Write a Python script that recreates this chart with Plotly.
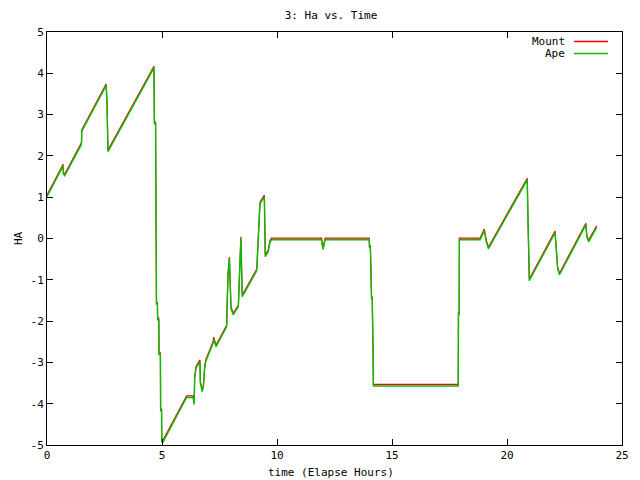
import plotly.graph_objects as go

# Elapsed time (hours)
time_h = [0, 0.67, 0.70, 0.71, 0.77, 1.48, 1.50, 1.51, 2.57, 2.61, 2.63, 2.65, 4.65, 4.67, 4.72, 4.74,
          4.76, 4.80, 4.81, 4.86, 4.87, 4.93, 4.94, 4.98, 4.99, 5.03, 6.07, 6.35, 6.37, 6.40, 6.42, 6.48,
          6.65, 6.67, 6.75, 6.80, 6.85, 6.90, 7.22, 7.25, 7.35, 7.81, 7.83, 7.87, 7.93, 7.96, 8.00, 8.10,
          8.32, 8.35, 8.39, 8.43, 8.46, 8.49, 9.12, 9.16, 9.22, 9.26, 9.45, 9.47, 9.49, 9.62, 9.70, 9.77,
          11.94, 11.96, 12.01, 12.05, 12.09, 14.01, 14.02, 14.06, 14.07, 14.10, 14.11, 14.14, 14.15, 14.18,
          14.19, 17.88, 17.89, 17.92, 17.93, 18.83, 19.01, 19.06, 19.10, 19.19, 20.88, 20.90, 20.94, 20.97,
          22.09, 22.12, 22.16, 22.20, 22.28, 23.43, 23.47, 23.55, 23.90]

mount_ha = [1.05, 1.80, 1.80, 1.60, 1.56, 2.30, 2.34, 2.63, 3.74, 3.30, 2.55, 2.14, 4.17, 2.82, 2.82, 0.03,
            -1.55, -1.55, -1.93, -1.93, -2.77, -2.77, -4.13, -4.13, -4.88, -4.90, -3.81, -3.81, -3.98, -3.98, -3.35, -3.10,
            -2.94, -3.47, -3.67, -3.55, -3.13, -2.94, -2.50, -2.39, -2.58, -2.10, -1.66, -0.84, -0.45, -1.00, -1.66, -1.81,
            -1.61, -1.17, -0.35, 0.04, -0.69, -1.37, -0.74, -0.35, 0.50, 0.88, 1.05, 0.37, -0.40, -0.28, -0.04, 0.01,
            0.01, -0.10, -0.23, -0.10, 0.01, 0.01, -0.18, -0.18, -0.56, -0.56, -1.42, -1.42, -2.82, -2.82,
            -3.53, -3.53, -1.80, -1.80, 0.01, 0.01, 0.23, 0.06, -0.04, -0.21, 1.46, 0.83, -0.40, -0.98,
            0.18, -0.04, -0.47, -0.69, -0.84, 0.37, 0.08, -0.04, 0.31]

ape_ha = [1.01, 1.76, 1.76, 1.56, 1.52, 2.26, 2.30, 2.59, 3.70, 3.26, 2.51, 2.10, 4.13, 2.78, 2.78, -0.01,
          -1.59, -1.59, -1.97, -1.97, -2.81, -2.81, -4.17, -4.17, -4.92, -4.94, -3.85, -3.85, -4.02, -4.02, -3.39, -3.14,
          -2.98, -3.51, -3.71, -3.59, -3.17, -2.98, -2.54, -2.43, -2.62, -2.14, -1.70, -0.88, -0.49, -1.04, -1.70, -1.85,
          -1.65, -1.21, -0.39, 0.00, -0.73, -1.41, -0.78, -0.39, 0.46, 0.84, 1.01, 0.33, -0.44, -0.32, -0.08, -0.03,
          -0.03, -0.14, -0.27, -0.14, -0.03, -0.03, -0.22, -0.22, -0.60, -0.60, -1.46, -1.46, -2.86, -2.86,
          -3.57, -3.57, -1.84, -1.84, -0.03, -0.03, 0.19, 0.02, -0.08, -0.25, 1.42, 0.79, -0.44, -1.02,
          0.14, -0.08, -0.51, -0.73, -0.88, 0.33, 0.04, -0.08, 0.27]

x_ticks = [0, 5, 10, 15, 20, 25]
y_ticks = [-5, -4, -3, -2, -1, 0, 1, 2, 3, 4, 5]

FONT = "DejaVu Sans Mono"
RED = "#ff0000"
GREEN = "#00c000"

# page body has an 8px margin; figure is sized so it ends at the window edge
W, H = 632, 472
OFF = 8
PL, PR, PT, PB = 47 - OFF, 622 - OFF, 32 - OFF, 445 - OFF  # plot area in figure pixels

fig = go.Figure()
fig.add_trace(go.Scatter(x=time_h, y=mount_ha, mode="lines", name="Mount",
                         line=dict(color=RED, width=1.2)))
fig.add_trace(go.Scatter(x=time_h, y=ape_ha, mode="lines", name="Ape",
                         line=dict(color=GREEN, width=1.4)))

axis_common = dict(showgrid=False, zeroline=False, showline=True, linecolor="black", linewidth=1,
                   mirror="ticks", ticks="inside", ticklen=6, tickcolor="black",
                   tickfont=dict(family=FONT, size=11, color="black"))

fig.update_xaxes(range=[0, 25], tickvals=x_ticks, ticktext=[str(v) for v in x_ticks], **axis_common)
fig.update_yaxes(range=[-5, 5], tickvals=y_ticks, ticktext=[str(v) for v in y_ticks], **axis_common)

fig.update_layout(
    width=W, height=H,
    margin=dict(l=PL, r=W - PR, t=PT, b=H - PB),
    paper_bgcolor="white", plot_bgcolor="white",
    showlegend=False,
    font=dict(family=FONT, size=11, color="black"),
    title=dict(text="3: Ha vs. Time", x=(331 - OFF) / W, xref="container", xanchor="center",
               y=1 - (15 - OFF) / H, yref="container", yanchor="middle",
               font=dict(family=FONT, size=11, color="black")),
)

pw = PR - PL
ph = PB - PT

# axis titles
fig.add_annotation(text="time (Elapse Hours)", xref="paper", yref="paper", x=(331 - 47) / pw, y=0,
                   yanchor="middle", yshift=-27, showarrow=False, font=dict(family=FONT, size=11))
fig.add_annotation(text="HA", xref="paper", yref="paper", x=0, y=0.5, xshift=-37, textangle=-90,
                   showarrow=False, font=dict(family=FONT, size=11))

# legend drawn gnuplot-style (text left, sample right)
leg_entries = [("Mount", RED, 41.5), ("Ape", GREEN, 53.5)]
for name, col, py in leg_entries:
    yp = (445 - py) / ph
    fig.add_annotation(text=name, xref="paper", yref="paper", x=(567 - 47) / pw, y=yp,
                       xanchor="right", yanchor="middle", showarrow=False, font=dict(family=FONT, size=11))
    fig.add_shape(type="line", xref="paper", yref="paper", x0=(574 - 47) / pw, x1=(608 - 47) / pw,
                  y0=yp, y1=yp, line=dict(color=col, width=1.5))

fig.write_html("out.html")
